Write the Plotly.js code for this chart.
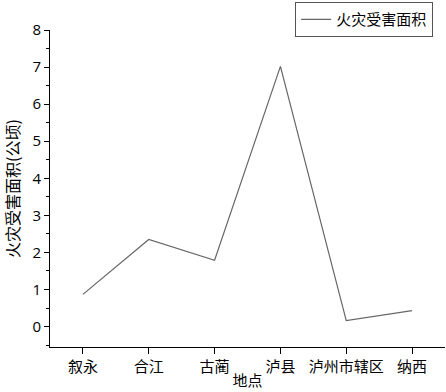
<!DOCTYPE html>
<html><head><meta charset="utf-8">
<script src="https://cdn.plot.ly/plotly-3.0.1.min.js"></script>
<style>body{margin:0;background:#fff}#c{width:446px;height:392px}</style>
</head><body><div id="c"></div>
<script>
const places = ["叙永","合江","古蔺","泸县","泸州市辖区","纳西"];
const burnedArea = [0.87, 2.35, 1.79, 7.02, 0.16, 0.43];
const seriesName = "火灾受害面积";
const xTitle = "地点";
const yTitle = "火灾受害面积(公顷)";
const yTicks = [0,1,2,3,4,5,6,7,8];

const cjk = '"Noto Sans CJK SC", "Noto Sans", sans-serif';
const trace = {
  x: places, y: burnedArea, type: 'scatter', mode: 'lines', name: seriesName,
  line: {color: '#666666', width: 1.2}
};
const layout = {
  width: 446, height: 392,
  margin: {l: 50, r: 1, t: 30, b: 45},
  paper_bgcolor: '#fff', plot_bgcolor: '#fff',
  font: {family: cjk, color: '#000', size: 15},
  showlegend: true,
  legend: {x: 0.97, xanchor: 'right', y: 1.088, yanchor: 'top',
    bordercolor: '#555', borderwidth: 1, bgcolor: '#fff',
    font: {family: cjk, size: 15}, itemwidth: 30, tracegroupgap: 0},
  xaxis: {
    type: 'category', range: [-0.5, 5.5],
    showline: true, linecolor: '#000', linewidth: 1,
    ticks: 'outside', ticklen: 6, tickcolor: '#000',
    minor: {ticks: 'outside', ticklen: 3, tickcolor: '#000', dtick: 0.5},
    showgrid: false, zeroline: false,
    tickfont: {family: cjk, size: 15},
    title: {text: xTitle, font: {family: cjk, size: 15}, standoff: 0}
  },
  yaxis: {
    range: [-0.55, 8], tickvals: yTicks,
    showline: true, linecolor: '#000', linewidth: 1,
    ticks: 'outside', ticklen: 5, tickcolor: '#000',
    minor: {ticks: 'outside', ticklen: 3, tickcolor: '#000', dtick: 0.5},
    showgrid: false, zeroline: false,
    tickfont: {family: 'Open Sans, sans-serif', size: 15},
    title: {text: yTitle, font: {family: cjk, size: 16}, standoff: 8}
  }
};
Plotly.newPlot('c', [trace], layout, {displayModeBar: false, staticPlot: true});
</script></body></html>
